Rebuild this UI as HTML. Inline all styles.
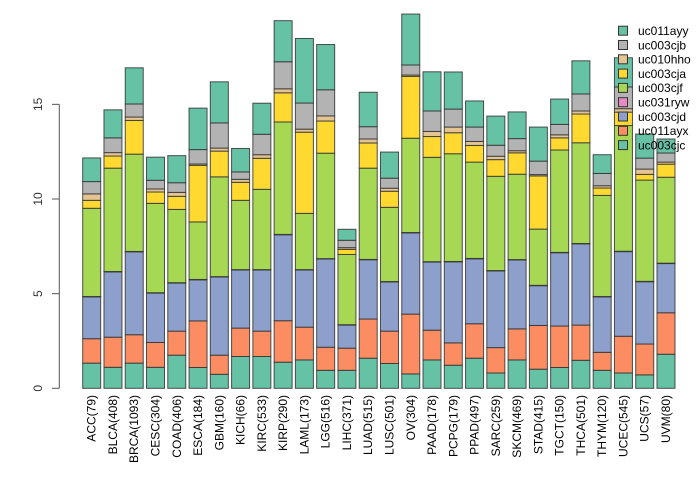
<!DOCTYPE html>
<html><head><meta charset="utf-8"><style>
body{margin:0;background:#fff;}
svg text{font-family:"Liberation Sans",sans-serif;}
</style></head><body>
<svg id="chart" width="700" height="480" xmlns="http://www.w3.org/2000/svg"></svg>
<script>
const categories=["ACC(79)","BLCA(408)","BRCA(1093)","CESC(304)","COAD(406)","ESCA(184)","GBM(160)","KICH(66)","KIRC(533)","KIRP(290)","LAML(173)","LGG(516)","LIHC(371)","LUAD(515)","LUSC(501)","OV(304)","PAAD(178)","PCPG(179)","PPAD(497)","SARC(259)","SKCM(469)","STAD(415)","TGCT(150)","THCA(501)","THYM(120)","UCEC(545)","UCS(57)","UVM(80)"];
const seriesNames=["uc003cjc","uc011ayx","uc003cjd","uc031ryw","uc003cjf","uc003cja","uc010hho","uc003cjb","uc011ayy"];
const seriesColors=["#66C2A5","#FC8D62","#8DA0CB","#E78AC3","#A6D854","#FFD92F","#E5C494","#B3B3B3","#66C2A5"];
const uc003cjc=[1.33,1.11,1.33,1.11,1.75,1.10,0.74,1.68,1.68,1.38,1.50,0.95,0.95,1.59,1.31,0.76,1.50,1.22,1.59,0.81,1.50,1.01,1.10,1.48,0.95,0.81,0.71,1.80];
const uc011ayx=[1.29,1.59,1.50,1.31,1.27,2.46,1.01,1.50,1.34,2.19,1.73,1.22,1.17,2.07,1.71,3.16,1.57,1.18,1.82,1.34,1.64,2.31,2.19,1.86,0.95,1.94,1.63,2.19];
const uc003cjd=[2.21,3.45,4.38,2.61,2.54,2.17,4.13,3.07,3.23,4.54,3.02,4.66,1.22,3.13,2.60,4.29,3.60,4.28,3.43,4.05,3.64,2.10,3.87,4.29,2.93,4.47,3.29,2.60];
const uc031ryw=[0.02,0.02,0.02,0.02,0.02,0.02,0.02,0.02,0.02,0.02,0.02,0.02,0.02,0.02,0.02,0.02,0.02,0.02,0.02,0.02,0.02,0.02,0.02,0.02,0.02,0.02,0.02,0.02];
const uc003cjf=[4.66,5.46,5.14,4.72,3.87,3.04,5.27,3.66,4.24,5.94,2.97,5.57,3.71,4.82,3.92,4.98,5.51,5.69,5.09,4.98,4.51,2.97,5.41,5.32,5.34,6.64,5.35,4.54];
const uc003cja=[0.42,0.64,1.78,0.60,0.69,2.99,1.36,0.95,1.64,1.54,4.29,1.70,0.27,1.33,0.85,3.27,1.10,1.11,0.88,0.88,1.13,2.81,0.64,1.52,0.39,0.71,0.30,0.69];
const uc010hho=[0.34,0.18,0.18,0.16,0.21,0.07,0.16,0.16,0.19,0.21,0.16,0.27,0.09,0.21,0.16,0.07,0.27,0.30,0.21,0.18,0.11,0.07,0.16,0.16,0.12,0.18,0.28,0.11];
const uc003cjb=[0.65,0.78,0.69,0.46,0.51,0.76,1.33,0.39,1.08,1.43,1.38,1.38,0.39,0.65,0.53,0.53,1.08,0.95,0.76,0.58,0.64,0.71,0.55,0.90,0.65,1.15,0.58,0.48];
const uc011ayy=[1.25,1.48,1.91,1.22,1.43,2.19,2.17,1.24,1.64,2.17,3.41,2.39,0.58,1.82,1.38,2.69,2.07,1.96,1.38,1.54,1.41,1.80,1.34,1.75,0.99,1.54,1.27,0.74];
const yTicks=[0,5,10,15];
const seriesData=[uc003cjc,uc011ayx,uc003cjd,uc031ryw,uc003cjf,uc003cja,uc010hho,uc003cjb,uc011ayy];

const svg=document.getElementById('chart');
const NS='http://www.w3.org/2000/svg';
const y0=388.3, pxPerUnit=18.93;
const yScale=v=>y0-v*pxPerUnit;
const step=21.27, barW=18, x0=82.7;
const xScale=i=>x0+i*step;
function mk(tag,attrs){const e=document.createElementNS(NS,tag);for(const k in attrs)e.setAttribute(k,attrs[k]);svg.appendChild(e);return e;}

categories.forEach((c,i)=>{
  let cum=0;
  seriesData.forEach((s,k)=>{
    const v=s[i];
    const r=mk('rect',{x:xScale(i),y:yScale(cum+v),width:barW,height:v*pxPerUnit,fill:seriesColors[k],stroke:'#333','stroke-width':1,'stroke-opacity':0.85});
    
    
    cum+=v;
  });
  const t=mk('text',{x:0,y:0,'font-size':12,fill:'#000','text-anchor':'end',transform:`translate(${xScale(i)+barW/2+4},395) rotate(-90)`});
  t.textContent=c;
  
  
});

const ax=mk('line',{x1:59.3,x2:59.3,y1:yScale(0),y2:yScale(15),stroke:'#555','stroke-width':1});


yTicks.forEach(v=>{
  const l=mk('line',{x1:52,x2:59.3,y1:yScale(v),y2:yScale(v),stroke:'#555','stroke-width':1});
  
  
  const t=mk('text',{x:0,y:0,'font-size':12,fill:'#333','text-anchor':'middle',transform:`translate(42,${yScale(v)}) rotate(-90)`});
  t.textContent=v;
  
  
});

const legendOrder=[8,7,6,5,4,3,2,1,0];
legendOrder.forEach((k,j)=>{
  const cy=30.7+j*14.3;
  const r=mk('rect',{x:618.5,y:cy-4.5,width:9,height:9,fill:seriesColors[k],stroke:'#333','stroke-width':1});
  
  
  const t=mk('text',{x:638,y:cy+4.3,'font-size':12,fill:'#000'});
  t.textContent=seriesNames[k];
  
  
});
</script>
</body></html>
